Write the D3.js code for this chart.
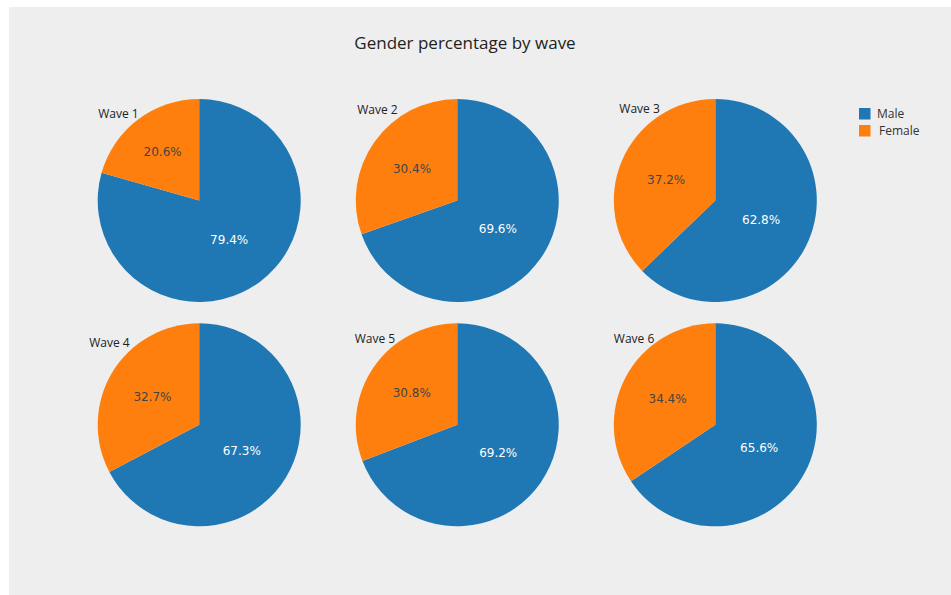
<!DOCTYPE html>
<html>
<head>
<meta charset="utf-8">
<script src="https://cdn.jsdelivr.net/npm/d3@7"></script>
<style>
  html, body { margin: 0; padding: 0; background: #ffffff; }
  svg { display: block; font-family: "Open Sans", "DejaVu Sans", sans-serif; }
</style>
</head>
<body>
<svg id="chart" width="951" height="595"></svg>
<script>
// ---- data ----
const title = "Gender percentage by wave";
const waves = ["Wave 1", "Wave 2", "Wave 3", "Wave 4", "Wave 5", "Wave 6"];
const genders = ["Male", "Female"];
const malePct = [79.4, 69.6, 62.8, 67.3, 69.2, 65.6];
const femalePct = [20.6, 30.4, 37.2, 32.7, 30.8, 34.4];
const genderColors = ["#1f77b4", "#ff7f0e"];
const labelColors = ["#ffffff", "#444444"];

// ---- layout (not data) ----
const W = 951, H = 595;
const radius = 101.5;
// wave title anchor offsets relative to each pie centre (annotation placement)
const waveTitleNudge = [[-101, -87], [-100, -91], [-96, -92], [-110, -82], [-102.5, -86], [-101.5, -86.5]];

const svg = d3.select("#chart");

svg.append("rect")
  .attr("x", 9).attr("y", 7)
  .attr("width", W - 9).attr("height", H - 7)
  .attr("fill", "#eeeeee");

svg.append("text")
  .attr("x", 465).attr("y", 42)
  .attr("text-anchor", "middle")
  .attr("dominant-baseline", "central")
  .attr("font-size", 17)
  .attr("fill", "#222")
  .text(title);

const colX = d3.scalePoint().domain([0, 1, 2]).range([199.2, 715.3]);
const rowY = d3.scalePoint().domain([0, 1]).range([200.5, 424.8]);
const color = d3.scaleOrdinal().domain(genders).range(genderColors);
const txtColor = d3.scaleOrdinal().domain(genders).range(labelColors);

const pie = d3.pie().sort(null).value(d => d.value).startAngle(0).endAngle(2 * Math.PI);
const arc = d3.arc().innerRadius(0).outerRadius(radius);

waves.forEach((w, i) => {
  const cx = colX(i % 3), cy = rowY(Math.floor(i / 3));
  const rows = [
    { gender: genders[0], value: malePct[i] },
    { gender: genders[1], value: femalePct[i] }
  ];
  const g = svg.append("g").attr("transform", `translate(${cx},${cy})`);
  const arcs = pie(rows);
  g.selectAll("path").data(arcs).join("path")
    .attr("d", arc)
    .attr("fill", d => color(d.data.gender));

  g.selectAll("text.pct").data(arcs).join("text")
    .attr("class", "pct")
    .attr("transform", d => {
      const f = (d.endAngle - d.startAngle) / (2 * Math.PI);
      const k = 0.49 + 0.033 * Math.max(0, 1 / f - 1.6);
      const a = (d.startAngle + d.endAngle) / 2;
      return `translate(${Math.sin(a) * radius * k},${-Math.cos(a) * radius * k})`;
    })
    .attr("text-anchor", "middle")
    .attr("dominant-baseline", "central")
    .attr("font-family", "'DejaVu Sans', sans-serif")
    .attr("font-size", 12)
    .attr("fill", d => txtColor(d.data.gender))
    .text(d => d3.format(".1f")(d.data.value) + "%");

  svg.append("text")
    .attr("x", cx + waveTitleNudge[i][0])
    .attr("y", cy + waveTitleNudge[i][1])
    .attr("dominant-baseline", "central")
    .attr("font-size", 12)
    .attr("fill", "#222")
    .text(w);
});

// legend
const legend = svg.append("g").attr("transform", "translate(859,108)");
genders.forEach((gname, j) => {
  const row = legend.append("g").attr("transform", `translate(0,${j * 17})`);
  row.append("rect").attr("width", 11.5).attr("height", 11.5).attr("fill", color(gname));
  row.append("text")
    .attr("x", j === 0 ? 18 : 20).attr("y", 5.5)
    .attr("dominant-baseline", "central")
    .attr("font-size", 12)
    .attr("fill", "#333")
    .text(gname);
});
</script>
</body>
</html>
